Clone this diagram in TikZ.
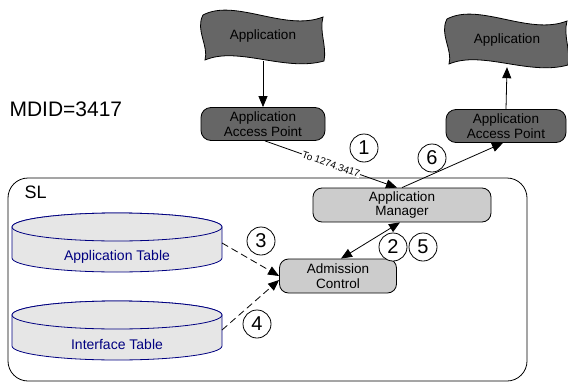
\documentclass[tikz,border=0pt]{standalone}
\usepackage{fontspec}
\setmainfont{Liberation Sans}
\usetikzlibrary{arrows.meta}
\definecolor{darkfill}{HTML}{666666}
\definecolor{lightfill}{HTML}{CCCCCC}
\definecolor{cylfill}{HTML}{E6E6E6}
\definecolor{navyc}{HTML}{000080}
\begin{document}
\begin{tikzpicture}[x=1pt,y=-1pt,
  lbl/.style={font=\fontsize{13.5}{14.5}\selectfont, align=center},
  aapbox/.style={lbl, draw=black, fill=darkfill, rounded corners=10pt, minimum width=124pt, minimum height=33pt, inner sep=1pt, line width=0.8pt},
  procbox/.style={lbl, draw=black, fill=lightfill, rounded corners=9pt, minimum height=34pt, inner sep=1pt, line width=0.8pt},
  numc/.style={circle, draw=black, fill=white, minimum size=28pt, inner sep=0pt, line width=0.8pt, font=\fontsize{20}{20}\selectfont},
  arr/.style={draw=black, line width=0.8pt, -{Triangle[length=11pt,width=9pt]}},
  dblarr/.style={draw=black, line width=0.8pt, {Triangle[length=11pt,width=9pt]}-{Triangle[length=11pt,width=9pt]}},
  wavefill/.style={draw=black, fill=darkfill, line width=0.8pt},
  cyl/.style={draw=navyc, fill=cylfill, line width=0.8pt},
  tapeshape/.pic={
    \path[wavefill] (-60,-21) .. controls (-28,-38) and (22,-4) .. (60,-19)
      .. controls (56,-4) and (64,10) .. (61,25)
      .. controls (22,36) and (-25,10) .. (-58,24)
      .. controls (-54,10) and (-68,-6) .. (-60,-21) -- cycle;
  },
]
\useasboundingbox (0,0) rectangle (568,383);

% SL container
\draw[line width=0.8pt, rounded corners=20pt] (8,178) rectangle (527,381);
\node[anchor=west, font=\fontsize{18}{18}\selectfont] (sl) at (21,192) {SL};
\node[anchor=west, font=\fontsize{21}{21}\selectfont] (mdid) at (6,109) {MDID=3417};

% cylinders
\path[cyl] (12,227) -- (12,258) arc[start angle=180, end angle=360, x radius=105pt, y radius=14pt] -- (222,227) arc[start angle=0, end angle=180, x radius=105pt, y radius=14pt] -- cycle;
\draw[cyl] (117,227) ellipse[x radius=105pt, y radius=14pt];
\node[font=\fontsize{14}{15}\selectfont, text=navyc] (apptab) at (117,257) {Application Table};
\coordinate (atr) at (222,243);

\path[cyl] (12,315) -- (12,346) arc[start angle=180, end angle=360, x radius=105pt, y radius=14pt] -- (222,315) arc[start angle=0, end angle=180, x radius=105pt, y radius=14pt] -- cycle;
\draw[cyl] (117,315) ellipse[x radius=105pt, y radius=14pt];
\node[font=\fontsize{14}{15}\selectfont, text=navyc] (inttab) at (117,344) {Interface Table};
\coordinate (itr) at (222,330);

% applications
\pic at (263,36) {tapeshape};
\node[lbl, minimum width=120pt, minimum height=50pt] (app1) at (263,36) {Application};
\pic at (507,40) {tapeshape};
\node[lbl, minimum width=120pt, minimum height=54pt] (app2) at (507,40) {Application};

% boxes
\node[aapbox] (aap1) at (263,124) {Application\\Access Point};
\node[aapbox, minimum width=120pt] (aap2) at (506,126) {Application\\Access Point};
\node[procbox, minimum width=178pt] (am) at (402,205) {Application\\Manager};
\node[procbox, minimum width=117pt] (ac) at (338,276) {Admission\\Control};

% connectors
\draw[arr] (app1.south) -- (aap1.north);
\draw[arr] (aap2.north) -- (app2.south);
\draw[arr] ([xshift=2pt]aap1.south) -- node[sloped, fill=white, inner sep=0.5pt, font=\fontsize{10}{10}\selectfont] (tolbl) {To 1274.3417} ([xshift=-5pt]am.north);
\draw[arr] (am.north) -- ([xshift=-3pt]aap2.south);
\draw[dblarr] ([xshift=-2pt]am.south) -- ([xshift=3pt]ac.north);
\draw[arr, dash pattern=on 7pt off 4pt] (atr) -- (ac.west);
\draw[arr, dash pattern=on 7pt off 4pt] (itr) -- ([yshift=-4pt]ac.west);

% numbers
\node[numc] (n1) at (364,148) {1};
\node[numc] (n6) at (432,158) {6};
\node[numc] (n2) at (393,247) {2};
\node[numc] (n5) at (423,247) {5};
\node[numc] (n3) at (261,241) {3};
\node[numc] (n4) at (257,324) {4};
\end{tikzpicture}
\end{document}
